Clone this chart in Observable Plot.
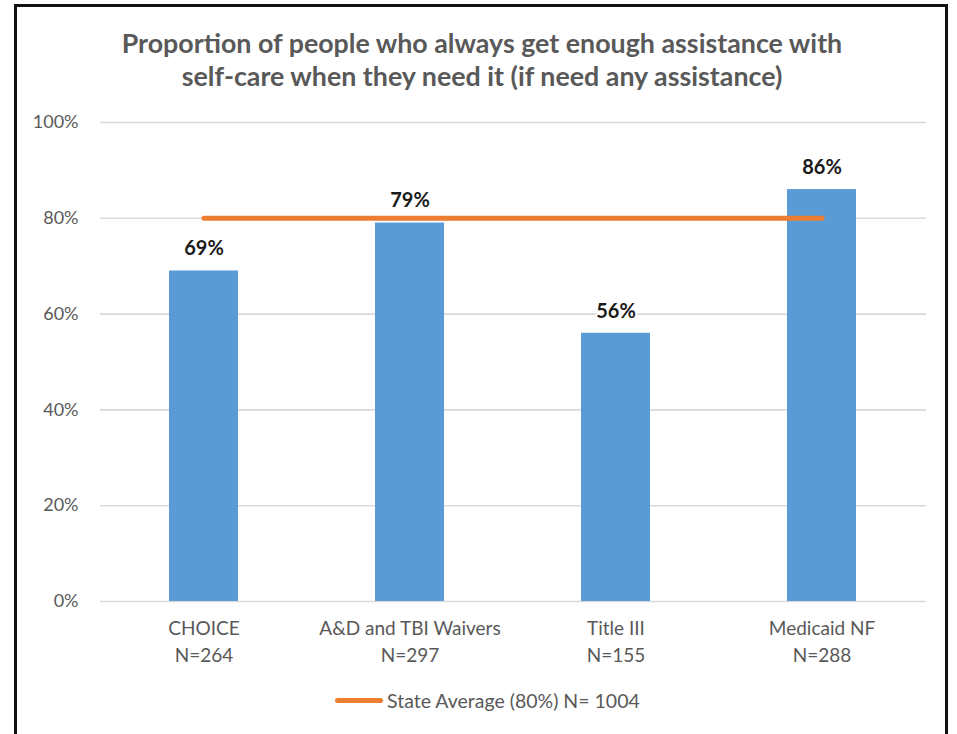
<!DOCTYPE html>
<html>
<head>
<meta charset="utf-8">
<script src="https://cdn.jsdelivr.net/npm/d3@7"></script>
<script src="https://cdn.jsdelivr.net/npm/@observablehq/plot@0.6"></script>
<style>
  html, body { margin: 0; padding: 0; background: #fff; }
  #wrap { position: relative; width: 957px; height: 734px; overflow: hidden; font-family: Lato, "Open Sans", sans-serif; }
  #frame { position: absolute; left: 14px; top: 4px; width: 934px; height: 760px; border: 3px solid #111; box-sizing: border-box; }
  #title { position: absolute; left: 0; top: 27px; width: 964px; text-align: center; color: #595959; font-weight: 700; font-size: 26.8px; line-height: 33px; }
  #chart { position: absolute; left: 0; top: 0; }
  #legend { position: absolute; left: 335px; top: 689px; display: flex; align-items: center; color: #595959; font-size: 19.5px; }
  #legend .sw { width: 48px; height: 5px; border-radius: 3px; background: #ED7D31; margin-right: 4px; }
</style>
</head>
<body>
<div id="wrap">
  <div id="frame"></div>
  <div id="chart"></div>
  <div id="title">Proportion of people who always get enough assistance with<br>self-care when they need it (if need any assistance)</div>
  <div id="legend"><div class="sw"></div><span>State Average (80%) N= 1004</span></div>
</div>
<script>
const categories = ["CHOICE", "A&D and TBI Waivers", "Title III", "Medicaid NF"];
const sampleSizes = ["N=264", "N=297", "N=155", "N=288"];
const values = [69, 79, 56, 86];
const stateAverage = 80;
const yTicks = [0, 20, 40, 60, 80, 100];

const rows = categories.map((c, i) => ({cat: c, n: sampleSizes[i], v: values[i]}));
const avgRows = categories.map(c => ({cat: c, v: stateAverage}));
const labelOf = Object.fromEntries(rows.map(r => [r.cat, r.cat + "\n" + r.n]));

const chart = Plot.plot({
  width: 957,
  height: 690,
  marginTop: 122,
  marginBottom: 89,
  marginLeft: 100,
  marginRight: 31,
  style: {fontFamily: "Lato, 'Open Sans', sans-serif", background: "transparent", overflow: "visible"},
  x: {domain: categories, paddingInner: 0.665, paddingOuter: 0.3325, label: null},
  y: {domain: [0, 100], label: null},
  marks: [
    Plot.gridY(yTicks, {stroke: "#d9d9d9", strokeOpacity: 1, strokeWidth: 1.6}),
    Plot.axisY(yTicks, {tickSize: 0, tickPadding: 22, tickFormat: d => d + "%", fontSize: 18, fill: "#595959", label: null}),
    Plot.axisX({tickSize: 0, tickPadding: 14, tickFormat: d => labelOf[d], fontSize: 19, fill: "#595959", lineHeight: 1.42, label: null}),
    Plot.barY(rows, {x: "cat", y: "v", fill: "#5B9BD5"}),
    Plot.line(avgRows, {x: "cat", y: "v", stroke: "#ED7D31", strokeWidth: 5, strokeLinecap: "round"}),
    Plot.text(rows, {x: "cat", y: "v", text: d => d.v + "%", dy: -22, fontSize: 20, fontWeight: "bold", fill: "#1a1a1a", stroke: "white", strokeWidth: 4, paintOrder: "stroke"})
  ]
});
document.getElementById("chart").appendChild(chart);
</script>
</body>
</html>
